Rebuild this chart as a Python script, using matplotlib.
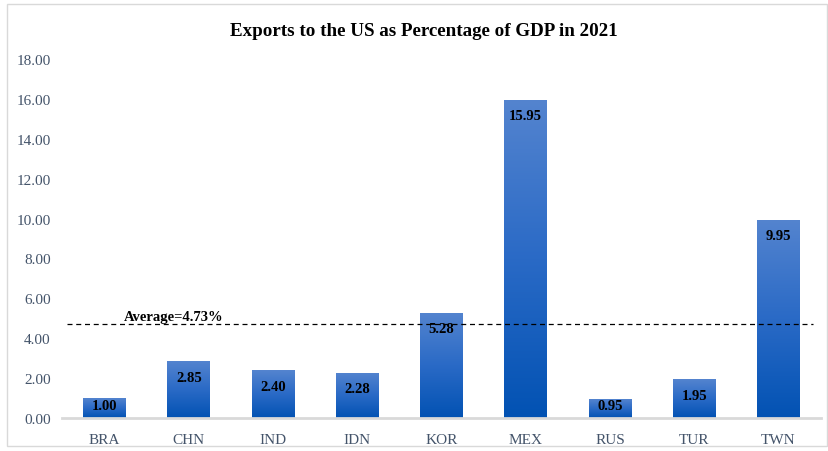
import numpy as np
import matplotlib.pyplot as plt
from matplotlib.patches import Rectangle
from matplotlib.colors import LinearSegmentedColormap

plt.rcParams['font.family'] = ['Liberation Serif', 'DejaVu Serif']

# data
countries = ['BRA', 'CHN', 'IND', 'IDN', 'KOR', 'MEX', 'RUS', 'TUR', 'TWN']
share = [1.00, 2.85, 2.40, 2.28, 5.28, 15.95, 0.95, 1.95, 9.95]
average = 4.73
yticks = [0, 2, 4, 6, 8, 10, 12, 14, 16, 18]

fig = plt.figure(figsize=(8.29, 4.52), dpi=100)
ax = fig.add_axes([0.0753, 0.073, 0.9146, 0.7943])

# outer frame
fig.patches.append(Rectangle((7 / 829, 5 / 452), 820 / 829, 442 / 452, transform=fig.transFigure,
                             fill=False, edgecolor='#d9d9d9', linewidth=1.0))

x = np.arange(len(countries))
bars = ax.bar(x, share, width=0.51, color='none', edgecolor='none', zorder=2)

# gradient fill, light on top, dark at bottom
cmap = LinearSegmentedColormap.from_list('grad', ['#0252b3', '#2a6ac6', '#5484cf'])
grad = np.linspace(0, 1, 256).reshape(-1, 1)
for b in bars:
    x0, w, h = b.get_x(), b.get_width(), b.get_height()
    im = ax.imshow(grad, cmap=cmap, origin='lower', aspect='auto',
                   extent=[x0, x0 + w, 0, h], zorder=2)
    im.set_clip_path(b)

for xi, v in zip(x, share):
    ax.text(xi, max(v - 0.8, 0.65), f'{v:.2f}', ha='center', va='center',
            fontsize=10.5, fontweight='bold', color='black', zorder=3)

# average line
ax.plot([-0.445, 8.41], [average, average], ls=(0, (4, 3)), color='black', lw=0.9, zorder=4)
ax.text(0.82, average + 0.05, f'Average={average}%', ha='center', va='bottom',
        fontsize=10.5, fontweight='bold', zorder=4)

ax.set_xlim(-0.5, len(countries) - 0.5)
ax.set_ylim(0, 18)
ax.set_yticks(yticks)
ax.set_yticklabels([f'{t:.2f}' for t in yticks], fontsize=11, color='#44546a')
ax.set_xticks(x)
ax.set_xticklabels(countries, fontsize=11, color='#44546a')
ax.tick_params(length=0)
ax.tick_params(axis='x', pad=11)
ax.tick_params(axis='y', pad=8.5)
for s in ['top', 'right', 'left']:
    ax.spines[s].set_visible(False)
ax.spines['bottom'].set_color('#d9d9d9')
ax.spines['bottom'].set_linewidth(2)

fig.text(0.511, 0.93, 'Exports to the US as Percentage of GDP in 2021', ha='center', va='center',
         fontsize=13.7, fontweight='bold')

fig.savefig('out.png', dpi=100)
